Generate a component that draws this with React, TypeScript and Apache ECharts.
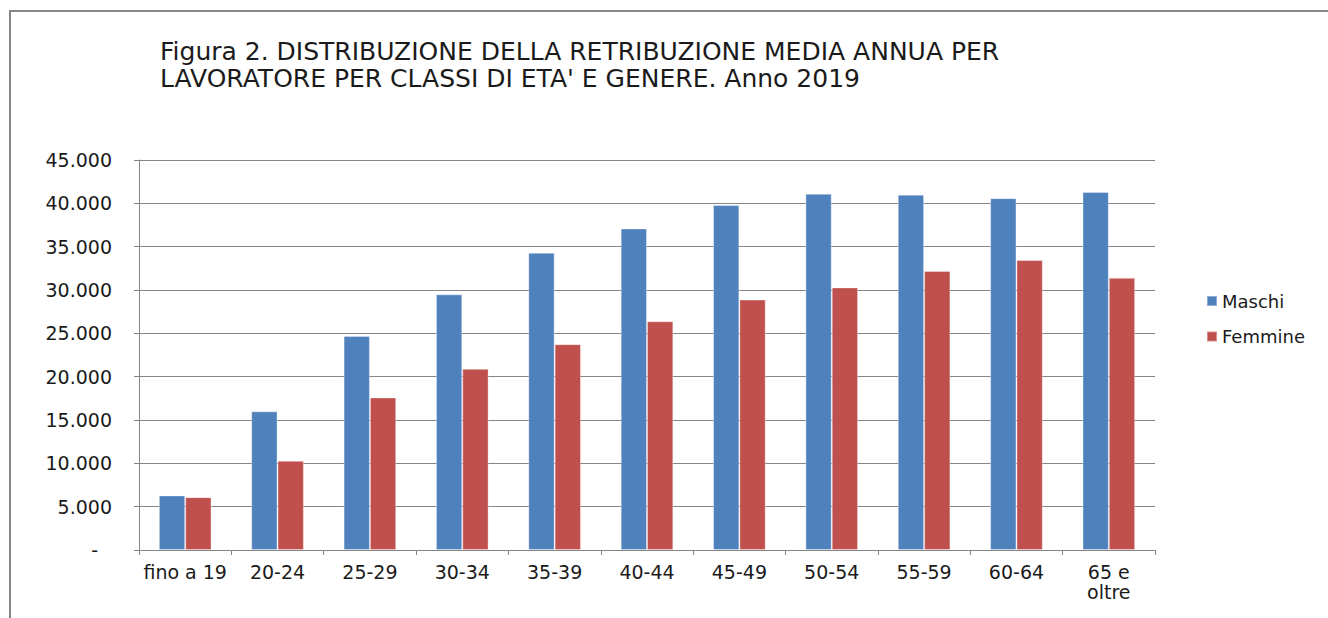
import React, { useEffect, useRef } from "react";
import * as echarts from "echarts";

const categories = ["fino a 19", "20-24", "25-29", "30-34", "35-39", "40-44", "45-49", "50-54", "55-59", "60-64", "65 e\noltre"];
const maschi = [6300, 16000, 24700, 29500, 34300, 37100, 39800, 41100, 41000, 40600, 41300];
const femmine = [6100, 10300, 17600, 20900, 23750, 26400, 28900, 30300, 32200, 33450, 31400];
const titleText = "Figura 2. DISTRIBUZIONE DELLA RETRIBUZIONE MEDIA ANNUA PER\nLAVORATORE PER CLASSI DI ETA' E GENERE. Anno 2019";

const fmt = (v: number) => String(v).replace(/\B(?=(\d{3})+(?!\d))/g, ".");

export default function App() {
  const ref = useRef<HTMLDivElement>(null);
  useEffect(() => {
    if (!ref.current) return;
    const chart = echarts.init(ref.current, null, { renderer: "svg" });
    const font = "DejaVu Sans, Verdana, sans-serif";
    chart.setOption({
      animation: false,
      backgroundColor: "#ffffff",
      textStyle: { fontFamily: font },
      title: {
        text: titleText,
        left: 160,
        top: 38,
        padding: 0,
        textStyle: { fontFamily: font, fontSize: 25, fontWeight: "normal", color: "#1a1a1a", lineHeight: 27 },
      },
      legend: {
        orient: "vertical",
        left: 1206,
        top: 291,
        padding: 0,
        itemWidth: 10,
        itemHeight: 10,
        itemGap: 15.5,
        icon: "rect",
        textStyle: { fontFamily: font, fontSize: 18, color: "#1a1a1a", lineHeight: 20 },
        data: ["Maschi", "Femmine"],
      },
      graphic: [
        {
          type: "rect",
          shape: { x: 10, y: 11, width: 1330, height: 700 },
          style: { fill: "none", stroke: "#878787", lineWidth: 2 },
          silent: true,
        },
      ],
      grid: { left: 139, right: 173, top: 160, bottom: 68, containLabel: false },
      xAxis: {
        type: "category",
        data: categories,
        axisLine: { lineStyle: { color: "#868686", width: 1 } },
        axisTick: { show: true, length: 5, lineStyle: { color: "#868686" } },
        axisLabel: { fontFamily: font, fontSize: 19, color: "#1a1a1a", margin: 12, lineHeight: 20, interval: 0 },
      },
      yAxis: {
        type: "value",
        min: 0,
        max: 45000,
        interval: 5000,
        axisLine: { show: true, lineStyle: { color: "#868686", width: 1 } },
        axisTick: { show: true, length: 5, lineStyle: { color: "#868686" } },
        splitLine: { lineStyle: { color: "#868686", width: 1 } },
        axisLabel: {
          fontFamily: font,
          fontSize: 19,
          color: "#1a1a1a",
          margin: 27,
          formatter: (v: number) => (v === 0 ? "{z|-}" : fmt(v)),
          rich: { z: { fontFamily: font, fontSize: 19, color: "#1a1a1a", padding: [0, 14, 0, 0] } },
        },
      },
      series: [
        {
          name: "Maschi",
          type: "bar",
          data: maschi,
          barGap: "0%",
          barCategoryGap: "43%",
          itemStyle: { color: "#4F81BD", borderColor: "rgba(255,255,255,0.35)", borderWidth: 1 },
        },
        {
          name: "Femmine",
          type: "bar",
          data: femmine,
          barGap: "0%",
          barCategoryGap: "43%",
          itemStyle: { color: "#C0504D", borderColor: "rgba(255,255,255,0.35)", borderWidth: 1 },
        },
      ],
    });
    return () => chart.dispose();
  }, []);
  return (
    <div
      ref={ref}
      style={{ position: "fixed", left: 0, top: 0, width: 1328, height: 618 }}
    />
  );
}
